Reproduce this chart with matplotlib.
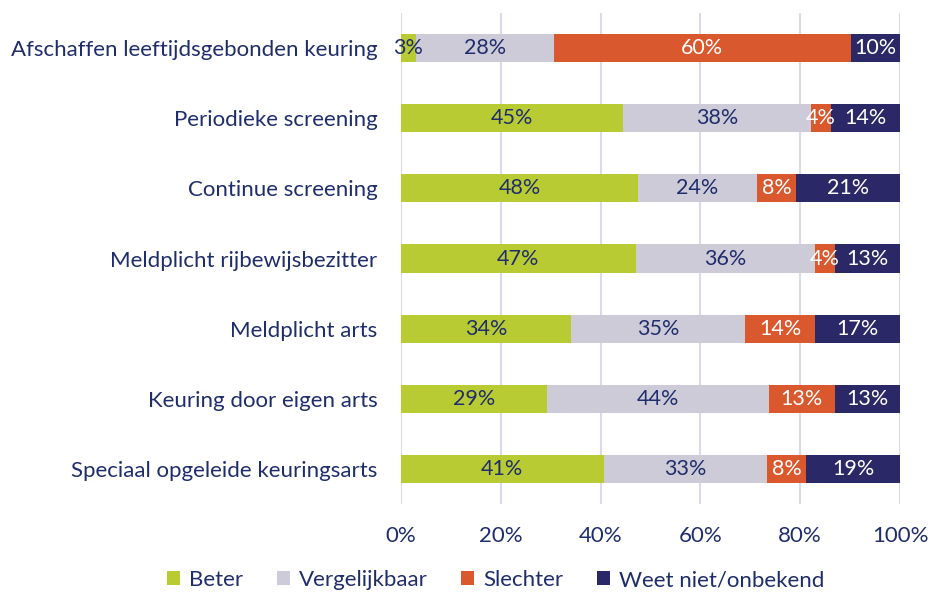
import numpy as np
import matplotlib
matplotlib.use('Agg')
import matplotlib.pyplot as plt

categories = ['Afschaffen leeftijdsgebonden keuring', 'Periodieke screening',
              'Continue screening', 'Meldplicht rijbewijsbezitter',
              'Meldplicht arts', 'Keuring door eigen arts',
              'Speciaal opgeleide keuringsarts']
beter = [3, 45, 48, 47, 34, 29, 41]
vergelijkbaar = [28, 38, 24, 36, 35, 44, 33]
slechter = [60, 4, 8, 4, 14, 13, 8]
weet_niet = [10, 14, 21, 13, 17, 13, 19]
series_names = ['Beter', 'Vergelijkbaar', 'Slechter', 'Weet niet/onbekend']
ticks = [0, 20, 40, 60, 80, 100]

colors = ['#B9CB33', '#CDCBD8', '#D9582E', '#2A2866']
text_cols = ['#1F2D6B', '#1F2D6B', 'white', 'white']
navy = '#1F2D6B'

plt.rcParams['font.family'] = ['Lato', 'DejaVu Sans']

data = np.array([beter, vergelijkbaar, slechter, weet_niet], dtype=float)
# bars are normalised so each row fills 100%
widths = data / data.sum(axis=0) * 100

fig = plt.figure(figsize=(9.35, 5.97), dpi=100)
ax = fig.add_axes([0.4289, 0.156, 0.5337, 0.822])

y = np.arange(len(categories))
left = np.zeros(len(categories))
for i, name in enumerate(series_names):
    ax.barh(y, widths[i], left=left, height=0.4, color=colors[i], label=name, zorder=3)
    for j in range(len(categories)):
        ax.text(left[j] + widths[i][j] / 2, y[j], f'{int(data[i][j])}%',
                ha='center', va='center', color=text_cols[i], fontsize=15.5, zorder=4)
    left += widths[i]

ax.set_ylim(len(categories) - 0.5, -0.5)
ax.set_xlim(0, 100)
ax.set_yticks(y)
ax.set_yticklabels(categories, fontsize=16, color=navy)
ax.set_xticks(ticks)
ax.set_xticklabels([f'{t}%' for t in ticks], fontsize=16, color=navy)
ax.tick_params(length=0)
ax.tick_params(axis='y', pad=17)
ax.tick_params(axis='x', pad=16)
for s in ax.spines.values():
    s.set_visible(False)
ax.xaxis.grid(True, color='#D9D9F0', linewidth=1.5, zorder=0)
ax.set_axisbelow(True)

leg = fig.legend(loc='lower center', bbox_to_anchor=(0.53, -0.022), ncol=4, frameon=False,
                 fontsize=16, handlelength=0.6, handleheight=0.6, handletextpad=0.4,
                 columnspacing=1.5)
for t in leg.get_texts():
    t.set_color(navy)

fig.savefig('out.png', dpi=100)
